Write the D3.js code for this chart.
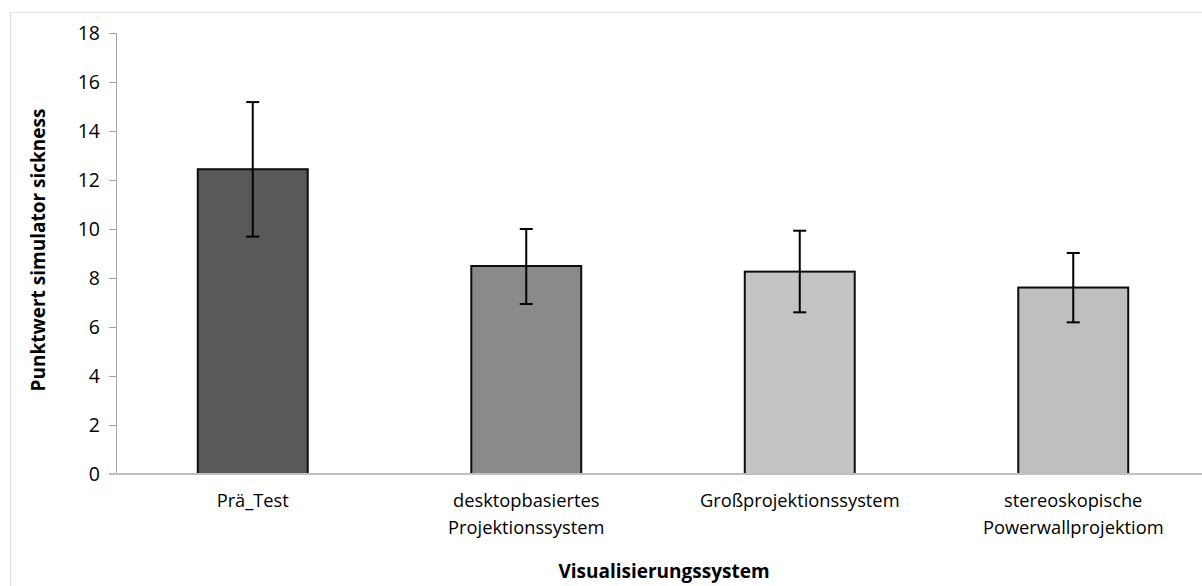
<!DOCTYPE html>
<html><head><meta charset="utf-8">
<script src="https://cdn.jsdelivr.net/npm/d3@7"></script>
<style>body{margin:0;background:#fff}svg{display:block}</style>
</head><body>
<script>
const categories = [["Prä_Test"], ["desktopbasiertes","Projektionssystem"], ["Großprojektionssystem"], ["stereoskopische","Powerwallprojektiom"]];
const values = [12.44, 8.49, 8.26, 7.61];
const errLow = [9.69, 6.94, 6.60, 6.19];
const errHigh = [15.18, 10.0, 9.93, 9.02];
const colors = ["#595959", "#8a8a8a", "#c4c4c4", "#bfbfbf"];
const yTicks = [0,2,4,6,8,10,12,14,16,18];
const yTitle = "Punktwert simulator sickness";
const xTitle = "Visualisierungssystem";

const W = 1202, H = 586;
const font = "'Open Sans', sans-serif";
const svg = d3.select("body").append("svg").attr("width", W).attr("height", H);

// chart frame
svg.append("rect").attr("x",10.5).attr("y",12.5).attr("width",W+20).attr("height",H+20)
  .attr("fill","none").attr("stroke","#e0e0e0");

const x = d3.scaleBand().domain(d3.range(categories.length)).range([116, 1210]).paddingInner(0.598).paddingOuter(0.299);
const y = d3.scaleLinear().domain([0,18]).range([474, 33]);

// y axis
const yAxis = svg.append("g").attr("transform","translate(116,0)")
  .call(d3.axisLeft(y).tickValues(yTicks).tickSize(7).tickPadding(9).tickFormat(d3.format("d")));
yAxis.select(".domain").attr("stroke","#a6a6a6").attr("d","M-7,33.5H0.5V474");
yAxis.selectAll(".tick line").attr("stroke","#a6a6a6");
yAxis.selectAll(".tick text").attr("font-family",font).attr("font-size",19.5).attr("fill","#000");

// bars
const g = svg.append("g");
g.selectAll("rect.bar").data(values).join("rect").attr("class","bar")
  .attr("x",(d,i)=>x(i)).attr("width",x.bandwidth())
  .attr("y",d=>y(d)).attr("height",d=>y(0)-y(d))
  .attr("fill",(d,i)=>colors[i]).attr("stroke","#0d0d0d").attr("stroke-width",2);

// x axis line
svg.append("line").attr("x1",109).attr("x2",W).attr("y1",474).attr("y2",474)
  .attr("stroke","#bfbfbf").attr("stroke-width",2);

// error bars
const cap = 6.5;
values.forEach((v,i)=>{
  const cx = x(i)+x.bandwidth()/2;
  const eg = svg.append("g").attr("stroke","#000").attr("stroke-width",2);
  eg.append("line").attr("x1",cx).attr("x2",cx).attr("y1",y(errLow[i])).attr("y2",y(errHigh[i]));
  eg.append("line").attr("x1",cx-cap).attr("x2",cx+cap).attr("y1",y(errLow[i])).attr("y2",y(errLow[i]));
  eg.append("line").attr("x1",cx-cap).attr("x2",cx+cap).attr("y1",y(errHigh[i])).attr("y2",y(errHigh[i]));
});

// category labels
categories.forEach((lines,i)=>{
  const t = svg.append("text").attr("x",x(i)+x.bandwidth()/2).attr("y",507)
    .attr("text-anchor","middle").attr("font-family",font).attr("font-size",18.3).attr("fill","#000");
  lines.forEach((l,j)=>t.append("tspan").attr("x",x(i)+x.bandwidth()/2).attr("dy", j===0?0:27).text(l));
});

// titles
svg.append("text").attr("x",664).attr("y",578).attr("text-anchor","middle")
  .attr("font-family",font).attr("font-size",19).attr("font-weight","bold").text(xTitle);
svg.append("text").attr("transform","translate(45,250) rotate(-90)").attr("text-anchor","middle")
  .attr("font-family",font).attr("font-size",19).attr("font-weight","bold").text(yTitle);
</script>
</body></html>
